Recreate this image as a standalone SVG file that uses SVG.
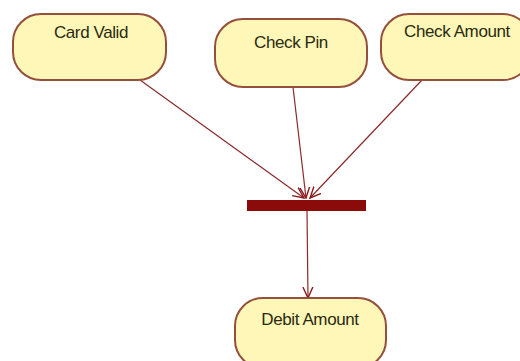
<svg xmlns="http://www.w3.org/2000/svg" width="520" height="361" viewBox="0 0 520 361">
<defs>
<style>
.node rect{fill:#fff7b8;stroke:#94503c;stroke-width:2}
.node text{font-family:"Liberation Sans",Arial,sans-serif;font-size:17px;fill:#2a2a10;text-anchor:middle;letter-spacing:-0.4px}
.conn line{stroke:#8a2a2a;stroke-width:1.2;fill:none}
</style>
<marker id="arr" viewBox="0 0 12 12" refX="11" refY="6" markerWidth="12" markerHeight="12" markerUnits="userSpaceOnUse" orient="auto">
<path d="M0,1 L11,6 L0,11" fill="none" stroke="#8a1a1a" stroke-width="1.4"/>
</marker>
</defs>
<rect width="520" height="361" fill="#ffffff"/>
<g class="conn">
<line x1="140" y1="80" x2="304" y2="198" marker-end="url(#arr)"/>
<line x1="293" y1="87" x2="306" y2="198" marker-end="url(#arr)"/>
<line x1="422" y1="80" x2="310" y2="198" marker-end="url(#arr)"/>
<line x1="307" y1="211" x2="308" y2="298" marker-end="url(#arr)"/>
</g>
<g id="card-valid" class="node">
<rect x="13" y="14" width="153" height="66" rx="28"/>
<text x="91" y="38">Card Valid</text>
</g>
<g id="check-pin" class="node">
<rect x="215" y="19" width="152" height="68" rx="28"/>
<text x="291" y="48">Check Pin</text>
</g>
<g id="check-amount" class="node">
<rect x="381" y="14" width="150" height="66" rx="28"/>
<text x="457" y="37">Check Amount</text>
</g>
<g id="fork-bar">
<rect x="247" y="200" width="119" height="11" fill="#8b0a0a"/>
</g>
<g id="debit-amount" class="node">
<rect x="235" y="298" width="151" height="70" rx="28"/>
<text x="310" y="325">Debit Amount</text>
</g>
</svg>
